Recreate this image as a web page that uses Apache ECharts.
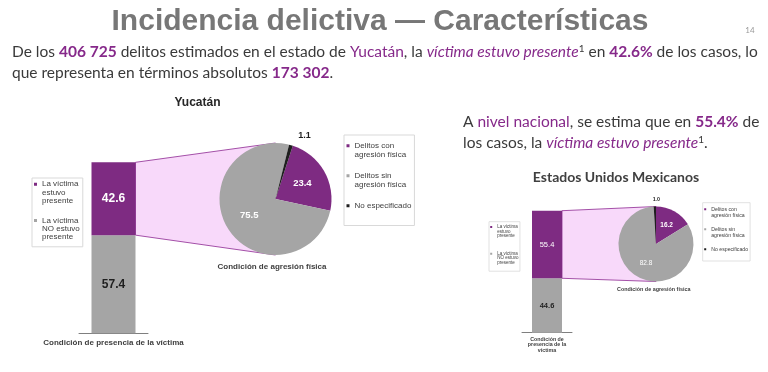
<!DOCTYPE html>
<html><head><meta charset="utf-8">
<script src="https://cdn.jsdelivr.net/npm/echarts@6/dist/echarts.min.js"></script>
<style>html,body{margin:0;padding:0;background:#fff}#c{width:768px;height:372px}</style>
</head><body><div id="c"></div>
<script>
// ---------- data ----------
const presenceNames = ['La víctima estuvo presente', 'La víctima NO estuvo presente'];
const presenceCategories = ['Yucatán', 'Estados Unidos Mexicanos'];
const presentValues = [42.6, 55.4];
const notPresentValues = [57.4, 44.6];
const aggressionNames = ['Delitos con agresión física', 'Delitos sin agresión física', 'No especificado'];
const aggressionYucatan = [23.4, 75.5, 1.1];
const aggressionNacional = [16.2, 82.8, 1.0];

// ---------- styles ----------
const PURPLE = '#7E2B82', GRAY = '#A5A5A5', BLACK = '#1F1F1F', PINK = '#F8D9FA', LINEP = '#9A3E9E';
const TXT = '#3a3a3a', TPURPLE = '#86298A';
const ARIAL = 'Liberation Sans, Arial, sans-serif';
const CAL = 'Lato, Liberation Sans, sans-serif';
const PFS = 15.5;

const pies = [
  {center: [275.5, 199], r: 56, start: 72},
  {center: [656, 244], r: 37.5, start: 90}
];
const barW = [44, 30];

const legendText = {
  'La víctima estuvo presente': 'La víctima\nestuvo\npresente',
  'La víctima NO estuvo presente': 'La víctima\nNO estuvo\npresente',
  'Delitos con agresión física': 'Delitos con\nagresión física',
  'Delitos sin agresión física': 'Delitos sin\nagresión física',
  'No especificado': 'No especificado\n '
};
function topIcon(sq, h, cy) {
  return 'path://M0,' + (cy - sq / 2) + 'h' + sq + 'v' + sq + 'h' + (-sq) + 'z M0,0h0.001 M0,' + h + 'h0.001';
}
function mkLegend(names, left, top, fs, lh, lines, sq, pad, bw) {
  const h = lh * lines;
  return {
    data: names.map(n => ({name: n, icon: topIcon(sq, h, lh / 2)})),
    orient: 'vertical', left: left, top: top, itemWidth: sq, itemHeight: h,
    itemGap: pad.gap, padding: pad.p, borderColor: '#d9d9d9', borderWidth: bw,
    selectedMode: false, formatter: n => legendText[n],
    textStyle: {fontSize: fs, lineHeight: lh, color: '#404040', fontFamily: ARIAL}
  };
}
function fmt(p) { return Number(p.value).toFixed(1); }

function pieSeries(i, values, fsIn, fsOut, boldGray, lineLen, dist) {
  const cols = [PURPLE, GRAY, BLACK];
  return {
    type: 'pie', center: pies[i].center, radius: pies[i].r, startAngle: pies[i].start,
    clockwise: true, avoidLabelOverlap: false, animation: false,
    itemStyle: {borderWidth: 0},
    data: values.map((v, k) => ({
      name: aggressionNames[k], value: v, itemStyle: {color: cols[k]},
      label: k < 2 ? {position: 'inside', color: '#fff', fontWeight: (k === 0 || boldGray) ? 'bold' : 'normal', fontSize: fsIn, fontFamily: ARIAL, formatter: fmt}
                   : {position: 'outside', color: BLACK, fontWeight: 'bold', fontSize: fsOut, fontFamily: ARIAL, formatter: fmt, distanceToLabelLine: dist},
      labelLine: {show: false, length: lineLen, length2: 0}
    }))
  };
}

const chart = echarts.init(document.getElementById('c'));
const option = {
  animation: false,
  textStyle: {fontFamily: ARIAL},
  grid: [
    {left: 79, width: 69, top: 162.3, height: 171},
    {left: 522, width: 50, top: 210.7, height: 122}
  ],
  xAxis: [0, 1].map(i => ({
    gridIndex: i, type: 'category', data: [presenceCategories[i]],
    axisLabel: {show: false},
    axisLine: {lineStyle: {color: '#7f7f7f', width: 1}},
    axisTick: {inside: true, length: i === 0 ? 3 : 2.5, lineStyle: {color: '#7f7f7f'}},
    name: i === 0 ? 'Condición de presencia de la víctima' : 'Condición de\npresencia de la\nvíctima',
    nameLocation: 'middle', nameGap: i === 0 ? 5 : 4,
    nameTextStyle: {fontSize: i === 0 ? 8 : 5.3, lineHeight: i === 0 ? 9 : 5.4, fontWeight: 'bold', color: '#404040', fontFamily: ARIAL}
  })),
  yAxis: [0, 1].map(i => ({gridIndex: i, type: 'value', min: 0, max: 100, show: false})),
  legend: [
    mkLegend(presenceNames, 32, 178, 8, 8.3, 3, 3, {p: [2, 3, 5.5, 2], gap: 11.5}, 1),
    mkLegend(aggressionNames, 344, 135, 8, 9.5, 2, 3, {p: [6, 3, 5.5, 2.5], gap: 11}, 1),
    mkLegend(presenceNames, 489, 221.7, 4.5, 4.3, 3, 2, {p: [2.8, 1.5, 6.4, 1.2], gap: 13.1}, 0.8),
    mkLegend(aggressionNames, 702.7, 202.7, 5.2, 6.5, 2, 2, {p: [3.3, 2, 2, 1.5], gap: 7}, 0.8)
  ],
  series: [
    {type: 'bar', name: presenceNames[1], stack: 's0', xAxisIndex: 0, yAxisIndex: 0, barWidth: barW[0],
     data: [notPresentValues[0]], itemStyle: {color: GRAY},
     label: {show: true, position: 'inside', color: BLACK, fontWeight: 'bold', fontSize: 12, formatter: fmt}},
    {type: 'bar', name: presenceNames[0], stack: 's0', xAxisIndex: 0, yAxisIndex: 0, barWidth: barW[0],
     data: [presentValues[0]], itemStyle: {color: PURPLE},
     label: {show: true, position: 'inside', color: '#fff', fontWeight: 'bold', fontSize: 12, formatter: fmt}},
    {type: 'bar', name: presenceNames[1], stack: 's1', xAxisIndex: 1, yAxisIndex: 1, barWidth: barW[1],
     data: [notPresentValues[1]], itemStyle: {color: GRAY},
     label: {show: true, position: 'inside', color: BLACK, fontWeight: 'bold', fontSize: 7.5, formatter: fmt}},
    {type: 'bar', name: presenceNames[0], stack: 's1', xAxisIndex: 1, yAxisIndex: 1, barWidth: barW[1],
     data: [presentValues[1]], itemStyle: {color: PURPLE},
     label: {show: true, position: 'inside', color: '#fff', fontWeight: 'normal', fontSize: 7.5, formatter: fmt}},
    pieSeries(0, aggressionYucatan, 9.5, 9, true, 10, 4.5),
    pieSeries(1, aggressionNacional, 6.5, 5.3, false, 6.5, -5.4)
  ]
};
chart.setOption(option);

// connectors derived from the bar scale and pie geometry
const connectors = [0, 1].map(i => {
  const top = chart.convertToPixel({xAxisIndex: i, yAxisIndex: i}, [0, 100]);
  const mid = chart.convertToPixel({xAxisIndex: i, yAxisIndex: i}, [0, notPresentValues[i]]);
  const xr = top[0] + barW[i] / 2;
  const c = pies[i].center, r = pies[i].r;
  return {type: 'polygon', z: 1,
    shape: {points: [[xr, top[1]], [c[0], c[1] - r], [c[0], c[1] + r], [xr, mid[1]]]},
    style: {fill: PINK, stroke: LINEP, lineWidth: 0.9}};
});

const base = {fontFamily: CAL, fontSize: PFS, fill: TXT};
const rich = {
  b: {fontFamily: CAL, fontSize: PFS, fontWeight: 'bold', fill: TPURPLE},
  p: {fontFamily: CAL, fontSize: PFS, fill: TPURPLE},
  i: {fontFamily: CAL, fontSize: PFS, fontStyle: 'italic', fill: TPURPLE},
  s: {fontFamily: CAL, fontSize: 10, fill: TXT, verticalAlign: 'top'}
};
function t(x, y, text, extra) {
  return {type: 'text', x: x, y: y, z: 5, style: Object.assign({text: text, verticalAlign: 'middle', align: 'left', rich: rich}, base, extra || {})};
}
const texts = [
  t(380, 22, 'Incidencia delictiva — Características', {fontFamily: ARIAL, fontWeight: 'bold', fontSize: 30, fill: '#777777', align: 'center'}),
  t(750, 30, '14', {fontFamily: CAL, fontSize: 8, fill: '#999999', align: 'center'}),
  t(12, 52, 'De los {b|406 725} delitos estimados en el estado de {p|Yucatán}, la {i|víctima estuvo presente}{s|1} en {b|42.6%} de los casos, lo'),
  t(12, 73, 'que representa en términos absolutos {b|173 302}.'),
  t(463, 122, 'A {p|nivel nacional}, se estima que en {b|55.4%} de'),
  t(463, 142.5, 'los casos, la {i|víctima estuvo presente}{s|1}.'),
  t(197.5, 102.7, 'Yucatán', {fontFamily: ARIAL, fontWeight: 'bold', fontSize: 12, fill: '#262626', align: 'center'}),
  t(616, 177, 'Estados Unidos Mexicanos', {fontFamily: CAL, fontWeight: 'bold', fontSize: 14, fill: '#404040', align: 'center'}),
  t(272, 266.7, 'Condición de agresión física', {fontFamily: ARIAL, fontWeight: 'bold', fontSize: 8, fill: '#404040', align: 'center'}),
  t(653.7, 290, 'Condición de agresión física', {fontFamily: ARIAL, fontWeight: 'bold', fontSize: 5.4, fill: '#404040', align: 'center'})
];
chart.setOption({graphic: {elements: connectors.concat(texts)}});
</script></body></html>
